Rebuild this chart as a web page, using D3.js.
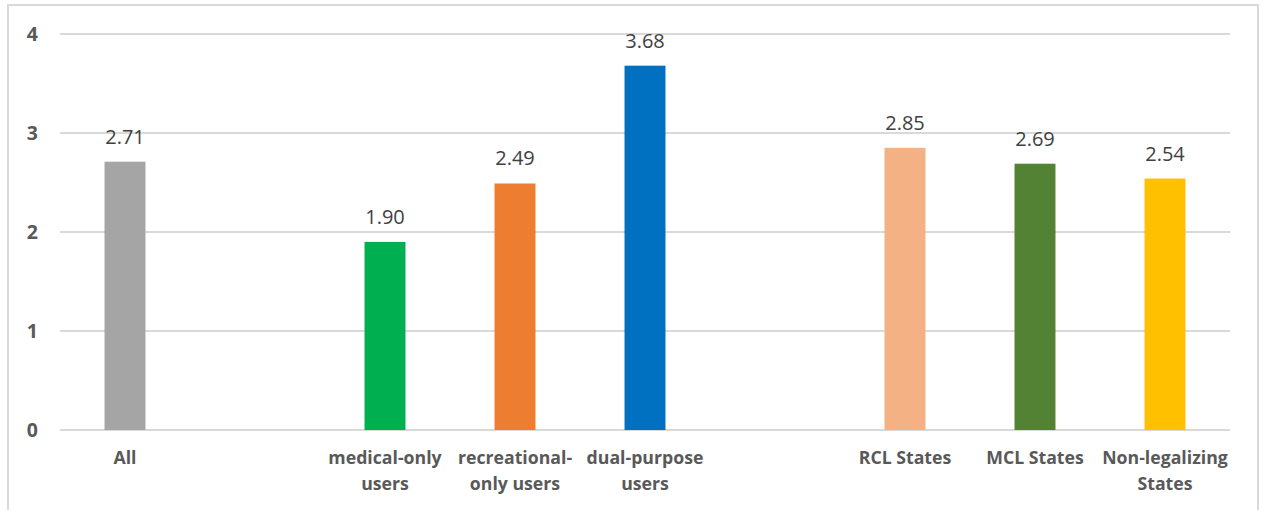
<!DOCTYPE html>
<html><head><meta charset="utf-8">
<script src="https://cdn.jsdelivr.net/npm/d3@7"></script>
<style>html,body{margin:0;padding:0;background:#fff;}svg{display:block;}</style>
</head><body>
<svg id="chart" width="1266" height="510"></svg>
<script>
const categories = ["All", "", "medical-only\nusers", "recreational-\nonly users", "dual-purpose\nusers", "", "RCL States", "MCL States", "Non-legalizing\nStates"];
const values = [2.71, null, 1.90, 2.49, 3.68, null, 2.85, 2.69, 2.54];
const colors = ["#a5a5a5", null, "#00b050", "#ed7d31", "#0070c0", null, "#f4b183", "#548235", "#ffc000"];
const yTicks = [0, 1, 2, 3, 4];

(function () {
const svg = d3.select("#chart");
const mLeft = 60, mRight = 1230, mTop = 34, mBottom = 430;

// frame
svg.append("rect").attr("x", 8).attr("y", 5).attr("width", 1250).attr("height", 520)
  .attr("fill", "#fff").attr("stroke", "#d9d9d9").attr("stroke-width", 2);

const x = d3.scaleBand().domain(d3.range(categories.length)).range([mLeft, mRight])
  .paddingInner(0.685).paddingOuter(0.3425);
const y = d3.scaleLinear().domain([0, 4]).range([mBottom, mTop]);

// gridlines
svg.append("g").selectAll("line").data(yTicks).join("line")
  .attr("x1", mLeft).attr("x2", mRight)
  .attr("y1", d => y(d)).attr("y2", d => y(d))
  .attr("stroke", "#d9d9d9").attr("stroke-width", 2);

// y tick labels
svg.append("g").selectAll("text").data(yTicks).join("text")
  .attr("x", 38).attr("y", d => y(d)).attr("dy", "0.35em")
  .attr("text-anchor", "end")
  .attr("font-family", "'Open Sans', sans-serif").attr("font-weight", "bold")
  .attr("font-size", 19.5).attr("fill", "#595959")
  .text(d => d);

const data = categories.map((c, i) => ({i, c, v: values[i], color: colors[i]}));
const barData = data.filter(d => d.v !== null);

// bars
svg.append("g").selectAll("rect").data(barData).join("rect")
  .attr("x", d => x(d.i)).attr("width", x.bandwidth())
  .attr("y", d => y(d.v)).attr("height", d => y(0) - y(d.v))
  .attr("fill", d => d.color);

// value labels
svg.append("g").selectAll("text").data(barData).join("text")
  .attr("x", d => x(d.i) + x.bandwidth() / 2).attr("y", d => y(d.v) - 18)
  .attr("text-anchor", "middle")
  .attr("font-family", "'Open Sans', sans-serif")
  .attr("font-size", 20).attr("fill", "#404040")
  .text(d => d.v.toFixed(2));

// category labels
const cat = svg.append("g").selectAll("text").data(data.filter(d => d.c)).join("text")
  .attr("x", d => x(d.i) + x.bandwidth() / 2).attr("y", 464)
  .attr("text-anchor", "middle")
  .attr("font-family", "'Open Sans', sans-serif").attr("font-weight", "bold")
  .attr("font-size", 17.7).attr("fill", "#595959");
cat.each(function(d) {
  const lines = d.c.split("\n");
  d3.select(this).selectAll("tspan").data(lines).join("tspan")
    .attr("x", x(d.i) + x.bandwidth() / 2)
    .attr("dy", (l, k) => k === 0 ? 0 : 26)
    .text(l => l);
});
})();
</script>
</body></html>
